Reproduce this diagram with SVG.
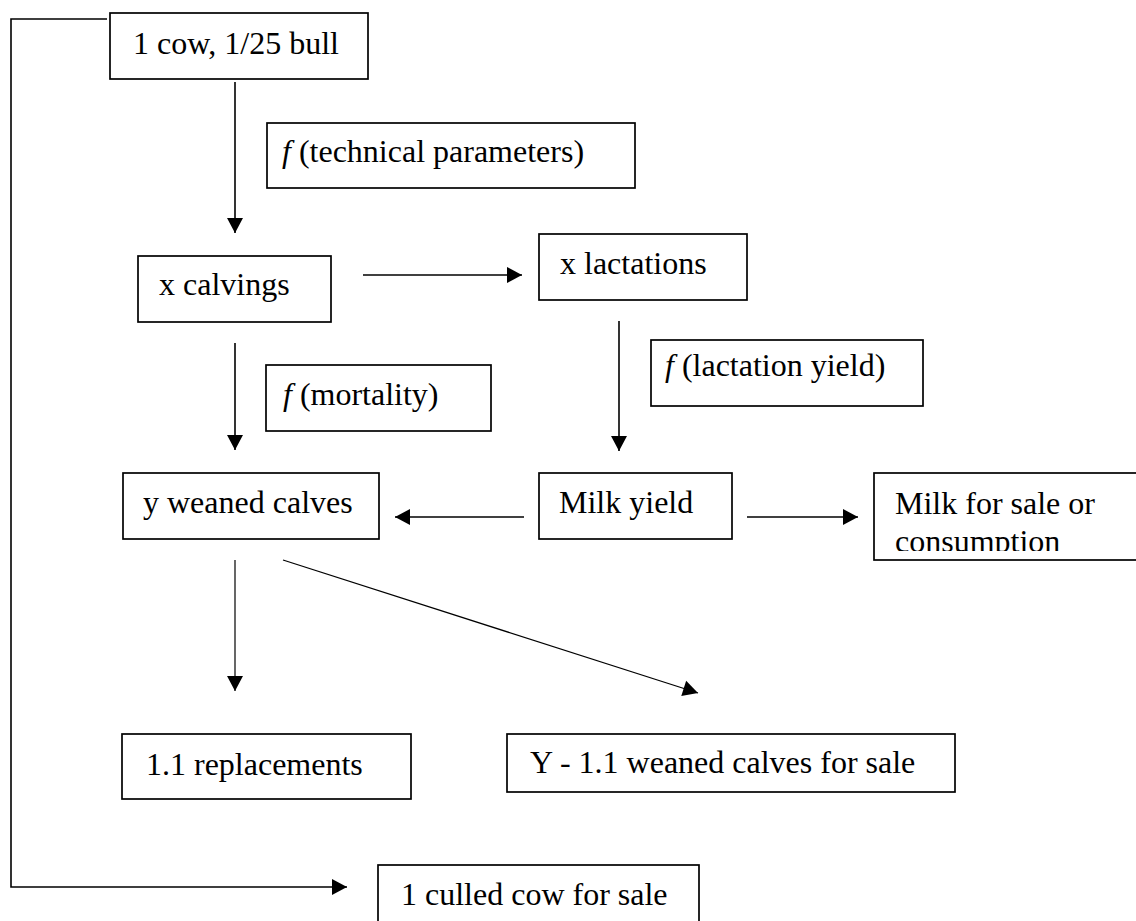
<svg xmlns="http://www.w3.org/2000/svg" width="1136" height="921" viewBox="0 0 1136 921">
<style>
.box{fill:#fff;stroke:#000;stroke-width:1.7}
.t{font-family:"Liberation Serif","Times New Roman",serif;font-size:32px;fill:#000}
.i{font-style:italic}
.c{fill:none;stroke:#000;stroke-width:1.6}
.thin{stroke-width:1.2}
</style>
<defs>
<marker id="ah" markerUnits="userSpaceOnUse" markerWidth="17" markerHeight="17" viewBox="0 0 17 17" refX="16" refY="8.5" orient="auto">
<path d="M1,0.5 L16,8.5 L1,16.5 Z" fill="#000"/>
</marker>
<clipPath id="clipMilk"><rect x="875" y="474" width="270" height="77"/></clipPath>
</defs>
<rect width="1136" height="921" fill="#fff"/>
<g id="connectors">
<line class="c" x1="235" y1="82" x2="235" y2="233" marker-end="url(#ah)"/>
<line class="c" x1="363" y1="275" x2="522" y2="275" marker-end="url(#ah)"/>
<line class="c" x1="235" y1="343" x2="235" y2="450" marker-end="url(#ah)"/>
<line class="c" x1="619" y1="321" x2="619" y2="451" marker-end="url(#ah)"/>
<line class="c" x1="524" y1="517" x2="395" y2="517" marker-end="url(#ah)"/>
<line class="c" x1="747" y1="517" x2="858" y2="517" marker-end="url(#ah)"/>
<line class="c thin" x1="235" y1="560" x2="235" y2="691" marker-end="url(#ah)"/>
<line class="c thin" x1="283" y1="560" x2="698" y2="693" marker-end="url(#ah)"/>
<polyline class="c" points="107,19 11,19 11,887 347,887" marker-end="url(#ah)"/>
</g>
<g id="cow">
<rect class="box" x="110" y="13" width="258" height="66"/>
<text class="t" x="133" y="54">1 cow, 1/25 bull</text>
</g>
<g id="f-technical">
<rect class="box" x="267" y="123" width="368" height="65"/>
<text class="t" x="282" y="162"><tspan class="i">f</tspan> (technical parameters)</text>
</g>
<g id="calvings">
<rect class="box" x="138" y="256" width="193" height="66"/>
<text class="t" x="159" y="295">x calvings</text>
</g>
<g id="lactations">
<rect class="box" x="539" y="234" width="208" height="66"/>
<text class="t" x="560" y="274">x lactations</text>
</g>
<g id="f-mortality">
<rect class="box" x="266" y="365" width="225" height="66"/>
<text class="t" x="283" y="405"><tspan class="i">f</tspan> (mortality)</text>
</g>
<g id="f-lactation">
<rect class="box" x="651" y="340" width="272" height="66"/>
<text class="t" x="665" y="376"><tspan class="i">f</tspan> (lactation yield)</text>
</g>
<g id="weaned">
<rect class="box" x="123" y="473" width="256" height="66"/>
<text class="t" x="143" y="513">y weaned calves</text>
</g>
<g id="milk-yield">
<rect class="box" x="539" y="473" width="193" height="66"/>
<text class="t" x="559" y="513">Milk yield</text>
</g>
<g id="milk-sale">
<rect class="box" x="874" y="473" width="280" height="87"/>
<g clip-path="url(#clipMilk)">
<text class="t" x="895" y="514">Milk for sale or</text>
<text class="t" x="895" y="552">consumption</text>
</g>
</g>
<g id="replacements">
<rect class="box" x="122" y="734" width="289" height="65"/>
<text class="t" x="146" y="775">1.1 replacements</text>
</g>
<g id="calves-sale">
<rect class="box" x="507" y="734" width="448" height="58"/>
<text class="t" x="530" y="773">Y - 1.1 weaned calves for sale</text>
</g>
<g id="culled">
<rect class="box" x="378" y="865" width="321" height="70"/>
<text class="t" x="401" y="905">1 culled cow for sale</text>
</g>
</svg>
